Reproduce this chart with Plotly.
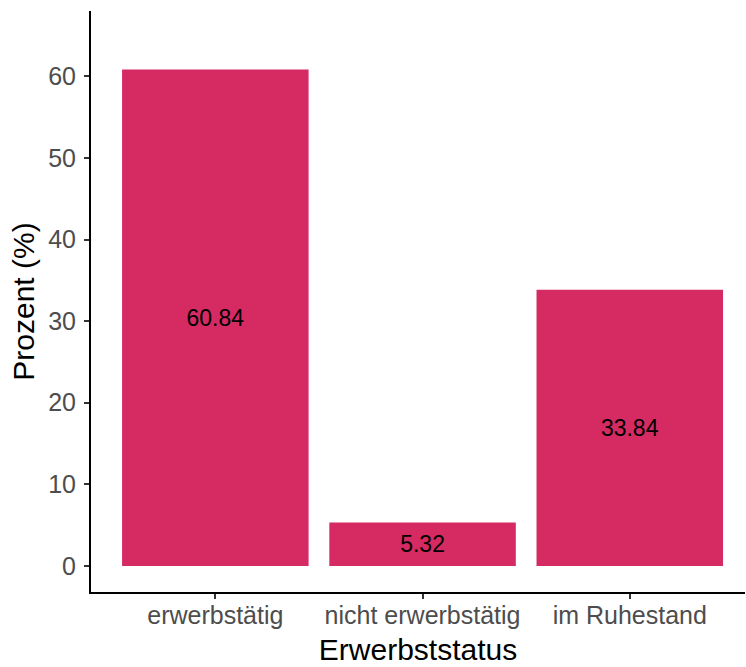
import plotly.graph_objects as go

categories = ["erwerbstätig", "nicht erwerbstätig", "im Ruhestand"]
values = [60.84, 5.32, 33.84]
labels = ["60.84", "5.32", "33.84"]
y_ticks = [0, 10, 20, 30, 40, 50, 60]

FONT = "Liberation Sans, Arial, sans-serif"

fig = go.Figure()
fig.add_trace(go.Bar(
    x=categories, y=values,
    marker=dict(color="#D52A62", line=dict(width=0)),
    width=0.9,
    text=labels, textposition="inside", insidetextanchor="middle",
    textangle=0, textfont=dict(color="black", size=23, family=FONT),
    constraintext="none", cliponaxis=False,
    hoverinfo="skip",
))
fig.update_layout(
    width=746, height=667,
    margin=dict(l=91, r=1, t=11, b=75),
    plot_bgcolor="white", paper_bgcolor="white",
    font=dict(family=FONT, color="black"),
    showlegend=False,
)
fig.update_yaxes(
    range=[-3.19, 68.0], tickvals=y_ticks, showgrid=False, zeroline=False,
    showline=True, linecolor="black", linewidth=2,
    ticks="outside", ticklen=5, tickwidth=2, tickcolor="#333333",
    ticklabelstandoff=3,
    tickfont=dict(size=25, color="#4D4D4D", family=FONT),
    title=dict(text="Prozent (%)", font=dict(size=30, color="black", family=FONT), standoff=5),
    automargin=False,
)
fig.update_xaxes(
    range=[-0.6, 2.556], showgrid=False, zeroline=False,
    showline=True, linecolor="black", linewidth=2,
    ticks="outside", ticklen=5, tickwidth=2, tickcolor="#333333",
    ticklabelstandoff=-5,
    tickfont=dict(size=25, color="#4D4D4D", family=FONT),
    title=dict(text="Erwerbststatus", font=dict(size=30, color="black", family=FONT), standoff=11),
    automargin=False,
)
fig.write_html("out.html", config={"displayModeBar": False},
               post_script="document.body.style.margin='0';")
